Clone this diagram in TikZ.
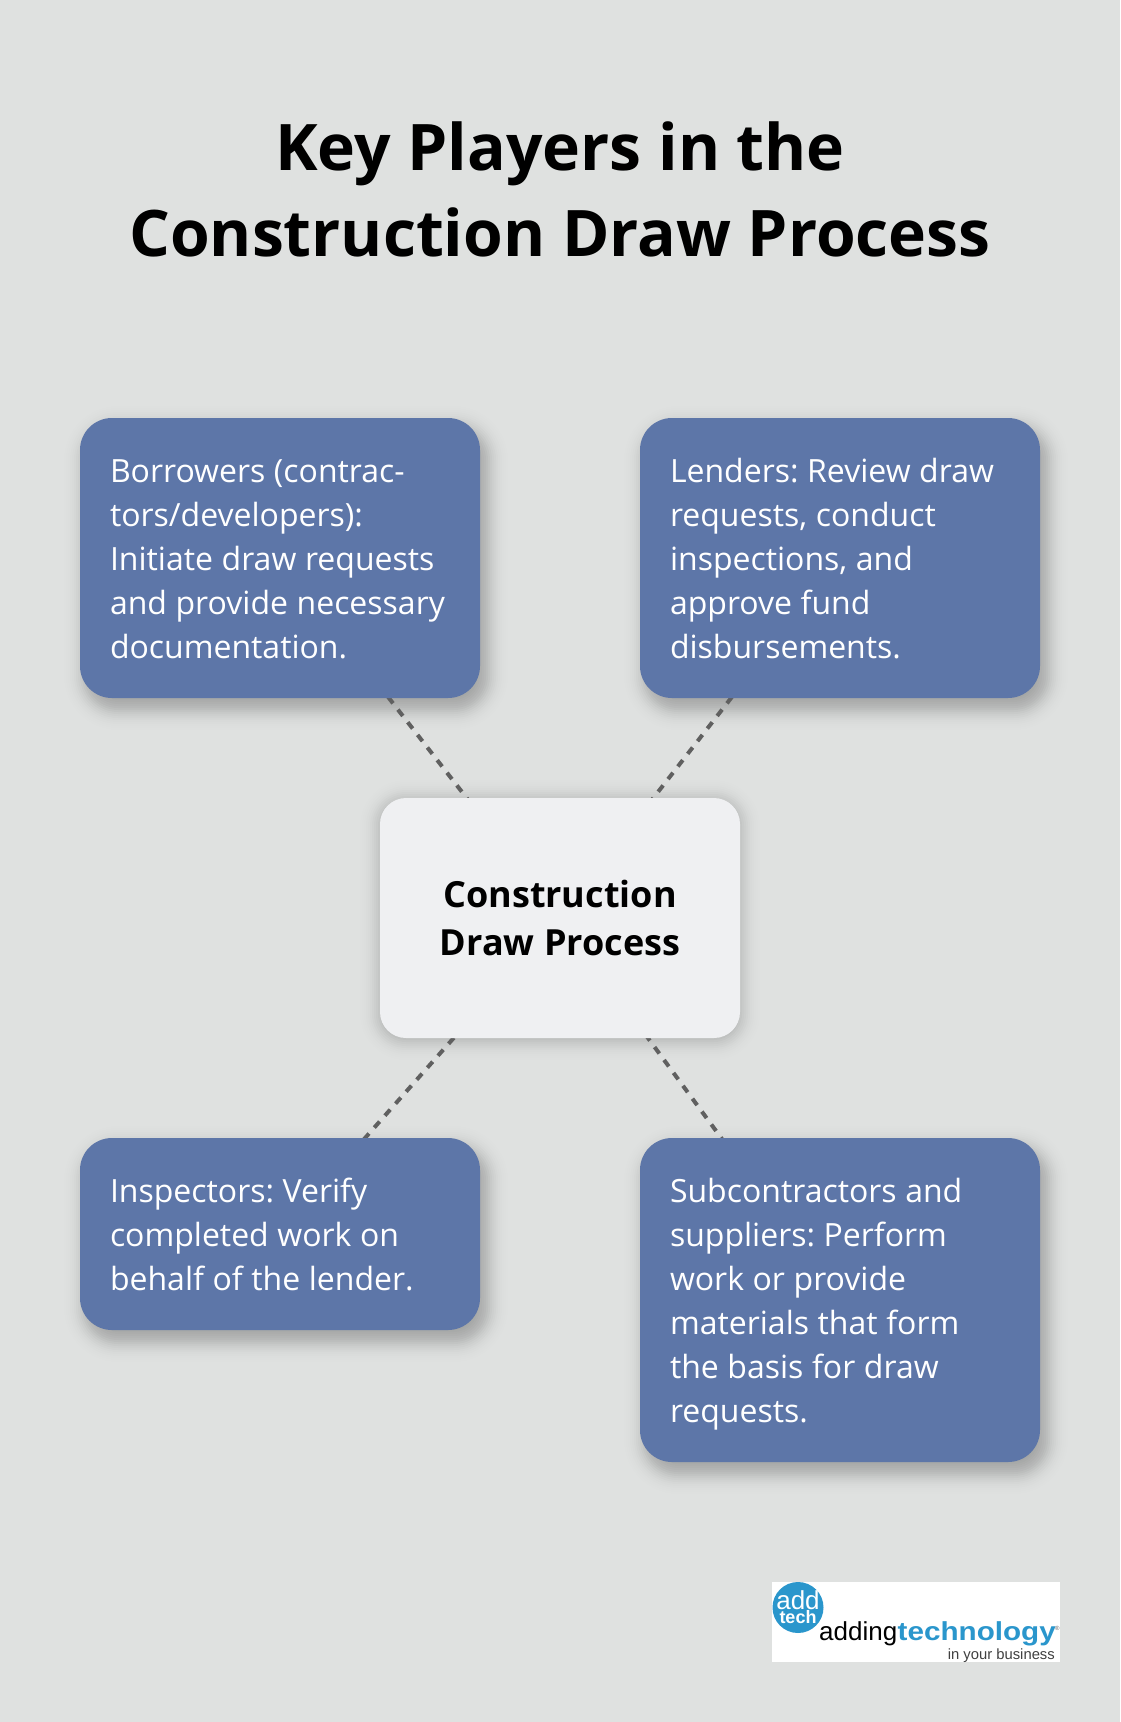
\documentclass[tikz,border=0pt]{standalone}
\usepackage{fontspec}
\setmainfont{Open Sans}
\newfontfamily\logofont{Liberation Sans}
\usetikzlibrary{backgrounds}
\definecolor{pagebg}{HTML}{DFE1E0}
\definecolor{boxblue}{HTML}{5D76A8}
\definecolor{boxpale}{HTML}{EFF0F2}
\definecolor{linegrey}{HTML}{606060}
\definecolor{logoblue}{HTML}{2A96CC}
\newcommand{\linestrut}{\rule[-10pt]{0pt}{44pt}}
\newcommand{\tightspace}{\spaceskip=8.6pt\relax\xspaceskip=8.6pt\relax}
\tikzset{
  player/.style={fill=boxblue, text=white, rounded corners=32, minimum width=400, text width=340, inner xsep=30, inner ysep=0, outer sep=0, align=left, font=\fontsize{32}{44}\selectfont, execute at begin node=\tightspace\linestrut, execute at end node=\linestrut},
  hub/.style={fill=boxpale, text=black, rounded corners=26, minimum width=360, minimum height=240, inner sep=0, outer sep=0, align=center, font=\fontsize{36}{48}\selectfont\bfseries, execute at begin node=\rule{0pt}{32pt}},
  headline/.style={inner sep=0, align=center, text=black, font=\fontsize{64.2}{86}\selectfont\bfseries},
  link/.style={linegrey, line width=4, dash pattern=on 8 off 8},
  logotext/.style={inner sep=0, anchor=base west, font=\logofont}
}
\begin{document}
\begin{tikzpicture}[x=1pt, y=-1pt]
\useasboundingbox (0,0) rectangle (1120,1722);
\node[headline] (title) at (560,189) {Key Players in the\\Construction Draw Process};
\node[hub] (cen) at (560,918) {Construction\\Draw Process};
\node[player, minimum height=280] (pid0) at (280,558) {Borrowers (contrac-\\tors/developers):\\Initiate draw requests\\and provide necessary\\documentation.};
\node[player, minimum height=280] (pid1) at (840,558) {Lenders: Review draw\\requests, conduct\\inspections, and\\approve fund\\disbursements.};
\node[player, minimum height=192] (pid2) at (280,1234) {Inspectors: Verify\\completed work on\\behalf of the lender.};
\node[player, minimum height=324] (pid3) at (840,1300) {Subcontractors and\\suppliers: Perform\\work or provide\\materials that form\\the basis for draw\\requests.};
\begin{scope}[on background layer]
\fill[pagebg] (0,0) rectangle (1120,1722);
\foreach \b/\c/\dx/\dy/\op in {pid0/32/6/10/0.024, pid1/32/6/10/0.024, pid2/32/6/10/0.024, pid3/32/6/10/0.024, cen/26/0/2/0.019} {
  \foreach \g in {-24,-22,...,24} {
    \pgfmathsetmacro\a{\op*exp(-(\g*\g)/200)}
    \fill[black, opacity=\a, rounded corners=\c+(\g)] ([xshift={\dx-(\g)}, yshift={-\dy-(\g)}]\b.south west) rectangle ([xshift={\dx+(\g)}, yshift={-\dy+(\g)}]\b.north east);
  }
}
\draw[link] (cen.center) -- (pid0.center);
\draw[link] (cen.center) -- (pid1.center);
\draw[link] (cen.center) -- (pid2.center);
\draw[link] (cen.center) -- (pid3.center);
\end{scope}
\node[fill=white, inner sep=0, minimum width=288, minimum height=80, outer sep=0] (logobox) at (916,1622) {};
\node[circle, fill=logoblue, inner sep=0, minimum size=51] (logodot) at (798,1607.5) {};
\node[logotext, anchor=base, text=white, font=\logofont\fontsize{26}{26}\selectfont] (logoadd) at (798,1609) {add};
\node[logotext, anchor=base, text=white, font=\logofont\bfseries\fontsize{18}{18}\selectfont] (logotech) at (798,1623) {tech};
\node[logotext, text=black, font=\logofont\fontsize{26}{26}\selectfont] (logoadding) at (819,1640) {adding};
\node[logotext, text=logoblue, xscale=1.14, transform shape, font=\logofont\bfseries\fontsize{26}{26}\selectfont] (logotechno) at (logoadding.base east) {technology};
\node[logotext, text=black!60, font=\logofont\fontsize{6}{6}\selectfont] (logoreg) at (1055,1630) {®};
\node[logotext, text=black!75, font=\logofont\fontsize{14.8}{14.8}\selectfont, anchor=base east] (logotag) at (1055,1659) {in your business};
\end{tikzpicture}
\end{document}
